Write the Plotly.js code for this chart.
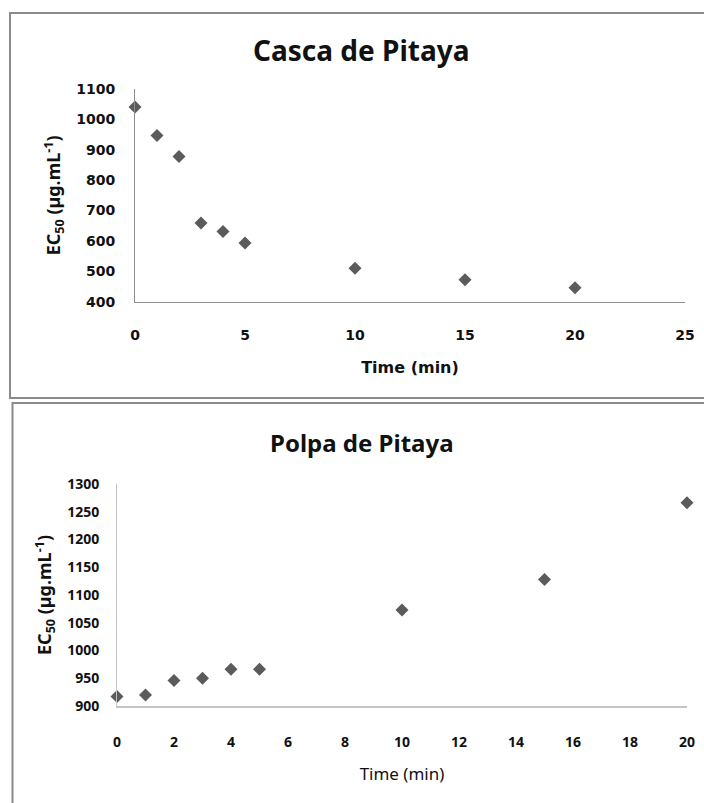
<!DOCTYPE html>
<html>
<head>
<meta charset="utf-8">
<script src="https://cdn.plot.ly/plotly-3.0.1.min.js"></script>
<style>html,body{margin:0;padding:0;background:#fff;} #chart{width:704px;height:803px;}</style>
</head>
<body>
<div id="chart"></div>
<script>
// Data
var cascaTime = [0, 1, 2, 3, 4, 5, 10, 15, 20];
var cascaEC50 = [1041, 947, 878, 659, 631, 593, 510, 472, 446];
var polpaTime = [0, 1, 2, 3, 4, 5, 10, 15, 20];
var polpaEC50 = [917, 920, 946, 950, 966, 966, 1073, 1128, 1266];
var titles = ["Casca de Pitaya", "Polpa de Pitaya"];
var xTitle = "Time (min)";
var yTitle = "EC<sub>50</sub> (µg.mL<sup>-1</sup>)";

var W = 704, H = 803;
function px(x) { return x / W; }
function py(y) { return 1 - y / H; }

var markerColor = "#5b5b5b";
var lineColor = "#8c8c8c";

var traces = [
  {x: cascaTime, y: cascaEC50, type: "scatter", mode: "markers", xaxis: "x", yaxis: "y",
   cliponaxis: false, marker: {symbol: "diamond", size: 10, color: markerColor}, name: titles[0]},
  {x: polpaTime, y: polpaEC50, type: "scatter", mode: "markers", xaxis: "x2", yaxis: "y2",
   cliponaxis: false, marker: {symbol: "diamond", size: 10, color: markerColor}, name: titles[1]}
];

var layout = {
  width: W, height: H,
  margin: {l: 0, r: 0, t: 0, b: 0},
  paper_bgcolor: "#fff", plot_bgcolor: "#fff",
  showlegend: false,
  xaxis: {domain: [px(135), px(685)], anchor: "y", range: [0, 25], dtick: 5, tick0: 0,
    showgrid: false, zeroline: false, showline: true, linecolor: lineColor, linewidth: 1,
    ticks: "", ticklabelstandoff: 20, tickfont: {family: "DejaVu Sans", size: 14, color: "#111", weight: "bold"},
    title: {text: xTitle, standoff: 20, font: {family: "DejaVu Sans", size: 16, color: "#111", weight: "bold"}}},
  yaxis: {domain: [py(301.7), py(89)], anchor: "x", range: [400, 1100], dtick: 100, tick0: 0,
    showgrid: false, zeroline: false, showline: true, linecolor: lineColor, linewidth: 1,
    ticks: "", ticklabelstandoff: 16, tickfont: {family: "DejaVu Sans", size: 14, color: "#111", weight: "bold"},
    title: {text: yTitle, standoff: 10, font: {family: "Noto Sans", size: 18, color: "#111", weight: "bold"}}},
  xaxis2: {domain: [px(117), px(687)], anchor: "y2", range: [0, 20], dtick: 2, tick0: 0,
    showgrid: false, zeroline: false, showline: true, linecolor: "#c4c4c4", linewidth: 2,
    ticks: "", ticklabelstandoff: 22, tickfont: {family: "Noto Sans", size: 14, color: "#111", weight: "bold"},
    title: {text: xTitle, standoff: 18, font: {family: "Noto Sans", size: 17, color: "#111"}}},
  yaxis2: {domain: [py(706), py(484)], anchor: "x2", range: [900, 1300], dtick: 50, tick0: 0,
    showgrid: false, zeroline: false, showline: true, linecolor: "#c4c4c4", linewidth: 1,
    ticks: "", ticklabelstandoff: 14, tickfont: {family: "Noto Sans", size: 14, color: "#111", weight: "bold"},
    title: {text: yTitle, standoff: 10, font: {family: "Noto Sans", size: 18, color: "#111", weight: "bold"}}},
  annotations: [
    {text: titles[0], xref: "paper", yref: "paper", x: px(361), y: py(50), xanchor: "center", yanchor: "middle",
     showarrow: false, font: {family: "Noto Sans", size: 28, color: "#111", weight: "bold"}},
    {text: titles[1], xref: "paper", yref: "paper", x: px(362), y: py(442), xanchor: "center", yanchor: "middle",
     showarrow: false, font: {family: "Noto Sans", size: 24, color: "#111", weight: "bold"}}
  ],
  shapes: [
    {type: "rect", xref: "paper", yref: "paper", x0: px(10), x1: 1.01, y0: py(398), y1: py(13),
     line: {color: "#8a8a8a", width: 2}, fillcolor: "rgba(0,0,0,0)"},
    {type: "rect", xref: "paper", yref: "paper", x0: px(12.5), x1: 1.01, y0: -0.02, y1: py(403),
     line: {color: "#8a8a8a", width: 2}, fillcolor: "rgba(0,0,0,0)"}
  ]
};

Plotly.newPlot("chart", traces, layout, {displayModeBar: false, staticPlot: true});
</script>
</body>
</html>
